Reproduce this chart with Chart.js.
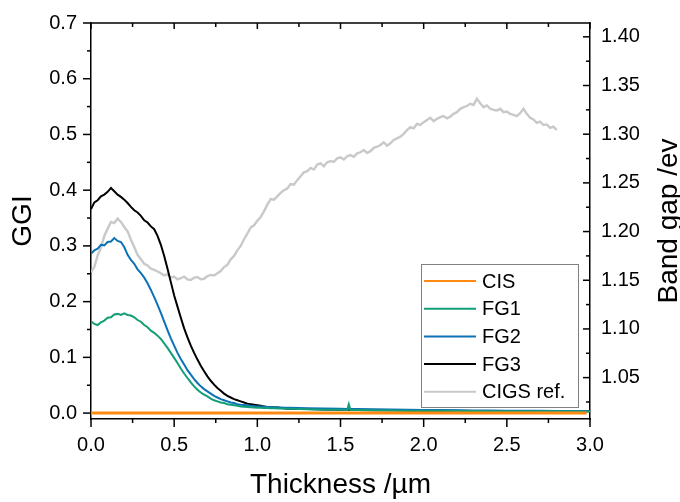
<!DOCTYPE html>
<html>
<head>
<meta charset="utf-8">
<script src="https://cdn.jsdelivr.net/npm/chart.js@4.4.1/dist/chart.umd.min.js"></script>
<style>
  html, body { margin: 0; padding: 0; background: #fff; }
  #wrap { width: 680px; height: 502px; }
</style>
</head>
<body>
<div id="wrap"><canvas id="ggiChart" width="680" height="502"></canvas></div>
<script>
/* ---------- data ---------- */

// shared thickness grid for the FG profiles (µm)
const fgThickness = [
  0.00, 0.02, 0.04, 0.06, 0.08, 0.10, 0.12, 0.14, 0.16, 0.18,
  0.20, 0.22, 0.24, 0.26, 0.28, 0.30, 0.32, 0.34, 0.36, 0.38,
  0.40, 0.42, 0.44, 0.46, 0.48, 0.50, 0.52, 0.54, 0.56, 0.58,
  0.60, 0.62, 0.64, 0.66, 0.68, 0.70, 0.72, 0.74, 0.76, 0.78,
  0.80, 0.82, 0.84, 0.86, 0.88, 0.90, 0.92, 0.94, 0.96, 0.98,
  1.00, 1.02, 1.04, 1.06, 1.08, 1.10, 1.12, 1.14, 1.16, 1.18, 1.20,
  1.30, 1.40, 1.50, 1.54, 1.55, 1.56,
  1.60, 1.70, 1.80, 1.90, 2.00, 2.10, 2.20, 2.30, 2.40, 2.50, 2.60, 2.70, 2.80, 2.90, 3.00
];

const fg1GGI = [
  0.165, 0.160, 0.158, 0.163, 0.166, 0.171, 0.172, 0.177, 0.178, 0.176,
  0.179, 0.176, 0.175, 0.172, 0.167, 0.164, 0.158, 0.154, 0.148, 0.144,
  0.139, 0.133, 0.125, 0.117, 0.108, 0.099, 0.090, 0.080, 0.071, 0.063,
  0.055, 0.048, 0.042, 0.037, 0.033, 0.030, 0.026, 0.023, 0.021, 0.019,
  0.018, 0.016, 0.015, 0.014, 0.013, 0.012, 0.0115, 0.011, 0.0105, 0.010,
  0.0098, 0.0095, 0.0092, 0.009, 0.0088, 0.0086, 0.0084, 0.0082, 0.008, 0.0078, 0.0076,
  0.0068, 0.0062, 0.0058, 0.0056, 0.016, 0.0056,
  0.0054, 0.005, 0.0047, 0.0044, 0.0042, 0.004, 0.0038, 0.0036, 0.0035, 0.0034, 0.0033, 0.0032, 0.0031, 0.003, 0.003
];

const fg2GGI = [
  0.286, 0.292, 0.295, 0.302, 0.301, 0.307, 0.308, 0.314, 0.309, 0.307,
  0.298, 0.284, 0.275, 0.268, 0.258, 0.251, 0.243, 0.233, 0.221, 0.208,
  0.194, 0.180, 0.164, 0.149, 0.134, 0.121, 0.108, 0.097, 0.087, 0.077,
  0.069, 0.061, 0.054, 0.048, 0.043, 0.039, 0.035, 0.031, 0.028, 0.025,
  0.023, 0.021, 0.019, 0.018, 0.016, 0.015, 0.0145, 0.014, 0.013, 0.0125,
  0.012, 0.0118, 0.0115, 0.011, 0.0108, 0.0105, 0.0103, 0.010, 0.0098, 0.0096, 0.0094,
  0.0088, 0.0082, 0.0077, 0.0075, 0.0075, 0.0075,
  0.0072, 0.0068, 0.0064, 0.006, 0.0057, 0.0054, 0.0051, 0.0048, 0.0046, 0.0044, 0.0042, 0.004, 0.0039, 0.0038, 0.0037
];

const fg3GGI = [
  0.366, 0.378, 0.382, 0.389, 0.392, 0.397, 0.404, 0.398, 0.392, 0.388,
  0.383, 0.377, 0.370, 0.364, 0.360, 0.354, 0.346, 0.342, 0.335, 0.330,
  0.318, 0.302, 0.282, 0.259, 0.235, 0.211, 0.191, 0.171, 0.152, 0.136,
  0.121, 0.108, 0.096, 0.085, 0.075, 0.066, 0.058, 0.051, 0.045, 0.040,
  0.035, 0.031, 0.028, 0.025, 0.023, 0.021, 0.019, 0.017, 0.016, 0.015,
  0.014, 0.013, 0.012, 0.011, 0.011, 0.010, 0.010, 0.009, 0.009, 0.008, 0.008,
  0.0072, 0.0066, 0.006, 0.0058, 0.0058, 0.0058,
  0.0056, 0.0052, 0.0049, 0.0046, 0.0044, 0.0042, 0.004, 0.0038, 0.0037, 0.0036, 0.0035, 0.0034, 0.0033, 0.0032, 0.0031
];

// CIS baseline
const cisThickness = [0.00, 1.00, 2.00, 2.98];
const cisGGI = [0, 0, 0, 0];

// CIGS reference
const cigsThickness = [
  0.00, 0.02, 0.04, 0.06, 0.08, 0.10, 0.12, 0.14, 0.16, 0.18,
  0.20, 0.22, 0.24, 0.26, 0.28, 0.30, 0.32, 0.34, 0.36, 0.38,
  0.40, 0.42, 0.44, 0.46, 0.48, 0.50, 0.52, 0.54, 0.56, 0.58,
  0.60, 0.62, 0.64, 0.66, 0.68, 0.70, 0.72, 0.74, 0.76, 0.78,
  0.80, 0.82, 0.84, 0.86, 0.88, 0.90, 0.92, 0.94, 0.96, 0.98,
  1.00, 1.02, 1.04, 1.06, 1.08, 1.10, 1.12, 1.14, 1.16, 1.18,
  1.20, 1.22, 1.24, 1.26, 1.28, 1.30, 1.32, 1.34, 1.36, 1.38,
  1.40, 1.42, 1.44, 1.46, 1.48, 1.50, 1.52, 1.54, 1.56, 1.58,
  1.60, 1.62, 1.64, 1.66, 1.68, 1.70, 1.72, 1.74, 1.76, 1.78,
  1.80, 1.82, 1.84, 1.86, 1.88, 1.90, 1.92, 1.94, 1.96, 1.98,
  2.00, 2.02, 2.04, 2.06, 2.08, 2.10, 2.12, 2.14, 2.16, 2.18,
  2.20, 2.22, 2.24, 2.26, 2.28, 2.30, 2.32, 2.34, 2.36, 2.38,
  2.40, 2.42, 2.44, 2.46, 2.48, 2.50, 2.52, 2.54, 2.56, 2.58,
  2.60, 2.62, 2.64, 2.66, 2.68, 2.70, 2.72, 2.74, 2.76, 2.78,
  2.80
];
const cigsGGI = [
  0.253, 0.262, 0.283, 0.297, 0.318, 0.331, 0.343, 0.341, 0.349, 0.343,
  0.334, 0.326, 0.311, 0.298, 0.284, 0.276, 0.268, 0.265, 0.259, 0.257,
  0.254, 0.251, 0.247, 0.249, 0.243, 0.245, 0.240, 0.242, 0.245, 0.240,
  0.239, 0.243, 0.244, 0.240, 0.241, 0.246, 0.248, 0.247, 0.251, 0.255,
  0.262, 0.266, 0.276, 0.282, 0.292, 0.300, 0.312, 0.322, 0.333, 0.337,
  0.345, 0.352, 0.362, 0.374, 0.384, 0.383, 0.389, 0.395, 0.400, 0.403,
  0.411, 0.410, 0.418, 0.425, 0.432, 0.434, 0.440, 0.437, 0.446, 0.448,
  0.443, 0.450, 0.452, 0.451, 0.457, 0.459, 0.455, 0.461, 0.463, 0.460,
  0.466, 0.468, 0.472, 0.467, 0.470, 0.476, 0.478, 0.481, 0.486, 0.480,
  0.484, 0.490, 0.493, 0.496, 0.501, 0.508, 0.513, 0.511, 0.519, 0.517,
  0.522, 0.526, 0.530, 0.524, 0.528, 0.531, 0.533, 0.529, 0.532, 0.537,
  0.540, 0.546, 0.549, 0.551, 0.555, 0.553, 0.564, 0.556, 0.549, 0.552,
  0.546, 0.544, 0.543, 0.546, 0.540, 0.541, 0.537, 0.535, 0.533, 0.538,
  0.546, 0.537, 0.530, 0.527, 0.521, 0.523, 0.517, 0.518, 0.512, 0.514,
  0.508
];

const seriesNames = ["CIS", "FG1", "FG2", "FG3", "CIGS ref."];
const seriesColors = ["#FF8A12", "#129E76", "#0C72B6", "#000000", "#C9C9C9"];

// tick values
const xMajorTicks = [0, 0.5, 1.0, 1.5, 2.0, 2.5, 3.0];
const xMinorTicks = [0.25, 0.75, 1.25, 1.75, 2.25, 2.75];
const yMajorTicks = [0, 0.1, 0.2, 0.3, 0.4, 0.5, 0.6, 0.7];
const yMinorTicks = [0.05, 0.15, 0.25, 0.35, 0.45, 0.55, 0.65];
const gapMajorTicks = [1.05, 1.10, 1.15, 1.20, 1.25, 1.30, 1.35, 1.40];
const gapMinorTicks = [1.025, 1.075, 1.125, 1.175, 1.225, 1.275, 1.325, 1.375];

/* ---------- chart ---------- */

const FONT = "'Liberation Sans', Arial, sans-serif";
Chart.defaults.font.family = FONT;
Chart.defaults.color = "#000";

function pairs(xs, ys) {
  return xs.map((x, i) => ({ x, y: ys[i] }));
}

// outward ticks on left/bottom, inward ticks on top/right, plus top frame line
const frameTicks = {
  id: "frameTicks",
  afterDraw(chart) {
    const { ctx, chartArea: a, scales } = chart;
    const seg = (x1, y1, x2, y2) => {
      ctx.beginPath(); ctx.moveTo(x1, y1); ctx.lineTo(x2, y2); ctx.stroke();
    };
    ctx.save();
    ctx.strokeStyle = "#000";
    ctx.lineWidth = 1.5;
    seg(a.left - 0.75, a.top, a.right + 0.75, a.top);

    const xs = scales.x, ys = scales.y, gs = scales.y2;
    xMajorTicks.forEach(v => {
      const p = xs.getPixelForValue(v);
      seg(p, a.bottom, p, a.bottom + 8);
      seg(p, a.top, p, a.top + 6);
    });
    xMinorTicks.forEach(v => {
      const p = xs.getPixelForValue(v);
      seg(p, a.bottom, p, a.bottom + 4);
      seg(p, a.top, p, a.top + 4);
    });
    yMajorTicks.forEach(v => {
      const p = ys.getPixelForValue(v);
      seg(a.left - 8, p, a.left, p);
    });
    yMinorTicks.forEach(v => {
      const p = ys.getPixelForValue(v);
      seg(a.left - 4, p, a.left, p);
    });
    gapMajorTicks.forEach(v => {
      const p = gs.getPixelForValue(v);
      seg(a.right - 7, p, a.right, p);
    });
    gapMinorTicks.forEach(v => {
      const p = gs.getPixelForValue(v);
      seg(a.right - 4, p, a.right, p);
    });
    ctx.restore();
  }
};

// legend box inside the plot area
const boxLegend = {
  id: "boxLegend",
  afterDraw(chart) {
    const { ctx } = chart;
    const left = 421, top = 264, w = 157, h = 143;
    ctx.save();
    ctx.fillStyle = "#fff";
    ctx.fillRect(left, top, w, h);
    ctx.strokeStyle = "#808080";
    ctx.lineWidth = 1;
    ctx.strokeRect(left + 0.5, top + 0.5, w, h);
    ctx.font = "20px " + FONT;
    ctx.textBaseline = "middle";
    ctx.fillStyle = "#000";
    chart.data.datasets.forEach((ds, i) => {
      const y = 281 + i * 27.7;
      ctx.strokeStyle = ds.borderColor;
      ctx.lineWidth = 2;
      ctx.beginPath(); ctx.moveTo(424, y); ctx.lineTo(476, y); ctx.stroke();
      ctx.fillText(ds.label, 482, y + 1);
    });
    ctx.restore();
  }
};

// right axis title reads bottom-to-top like the left one
const gapTitle = {
  id: "gapTitle",
  afterDraw(chart) {
    const { ctx } = chart;
    ctx.save();
    ctx.translate(677, 221);
    ctx.rotate(-Math.PI / 2);
    ctx.font = "28px " + FONT;
    ctx.fillStyle = "#000";
    ctx.textAlign = "center";
    ctx.textBaseline = "alphabetic";
    ctx.fillText("Band gap /ev", 0, 0);
    ctx.restore();
  }
};

const ggiSeries = [cisGGI, fg1GGI, fg2GGI, fg3GGI, cigsGGI];
const thicknessFor = [cisThickness, fgThickness, fgThickness, fgThickness, cigsThickness];
const widths = [3, 2, 2, 2, 2.4];

const datasets = seriesNames.map((name, i) => ({
  label: name,
  data: pairs(thicknessFor[i], ggiSeries[i]),
  borderColor: seriesColors[i],
  borderWidth: widths[i],
  pointRadius: 0,
  tension: 0,
  fill: false,
  yAxisID: "y"
}));

new Chart(document.getElementById("ggiChart"), {
  type: "line",
  data: { datasets },
  plugins: [frameTicks, boxLegend, gapTitle],
  options: {
    responsive: false,
    animation: false,
    layout: { padding: { top: 17, left: 0, right: 0, bottom: 0 } },
    plugins: { legend: { display: false }, tooltip: { enabled: false } },
    scales: {
      x: {
        type: "linear",
        position: "bottom",
        min: 0,
        max: 3,
        afterBuildTicks: s => { s.ticks = xMajorTicks.map(v => ({ value: v })); },
        afterFit: s => { s.height = 83; },
        grid: { display: false, drawTicks: true, tickLength: 8 },
        border: { display: true, color: "#000", width: 1.5 },
        ticks: {
          padding: 6, autoSkip: false, maxRotation: 0,
          font: { size: 20 },
          callback: v => Number(v).toFixed(1)
        },
        title: {
          display: true, text: "Thickness /µm",
          font: { size: 28 }, padding: { top: 0, bottom: 0 }
        }
      },
      y: {
        type: "linear",
        position: "left",
        min: -0.0106,
        max: 0.7,
        afterBuildTicks: s => { s.ticks = yMajorTicks.map(v => ({ value: v })); },
        afterFit: s => { s.width = 91; },
        grid: { display: false, drawTicks: true, tickLength: 8 },
        border: { display: true, color: "#000", width: 1.5 },
        ticks: {
          padding: 6, autoSkip: false,
          font: { size: 20 },
          callback: v => Number(v).toFixed(1)
        },
        title: {
          display: true, text: "GGI",
          font: { size: 28 }, padding: { top: 6, bottom: 0 }
        }
      },
      y2: {
        type: "linear",
        position: "right",
        min: 1.0075,
        max: 1.4142,
        afterBuildTicks: s => { s.ticks = gapMajorTicks.map(v => ({ value: v })); },
        afterFit: s => { s.width = 90; },
        grid: { display: false, drawTicks: false },
        border: { display: true, color: "#000", width: 1.5 },
        ticks: {
          padding: 11, autoSkip: false,
          font: { size: 20 },
          callback: v => Number(v).toFixed(2)
        }
      }
    }
  }
});
</script>
</body>
</html>
